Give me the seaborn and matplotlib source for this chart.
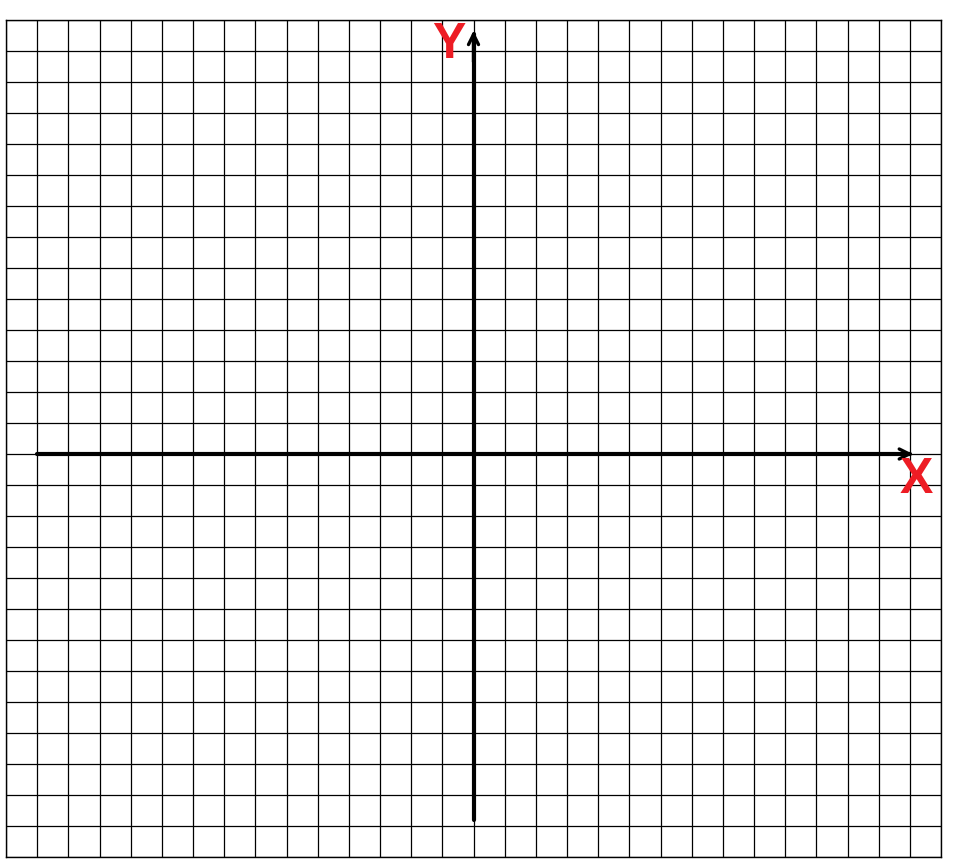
import numpy as np
import seaborn as sns
import matplotlib.pyplot as plt

# grid extent (units of one cell)
x_ticks = list(range(-15, 16))
y_ticks = list(range(-13, 15))

# axis segments: (start, end) along each axis
x_axis = [-14.0, 14.1]
y_axis = [-11.8, 13.65]

axis_labels = ["X", "Y"]
label_pos = [(14.2, -0.85), (-0.8, 13.2)]

sns.set_style("white")
plt.rcParams['font.family'] = ['Liberation Sans', 'DejaVu Sans']

fig = plt.figure(figsize=(9.56, 8.65), dpi=100)
ax = fig.add_axes([6 / 956, 8 / 865, 935 / 956, 837 / 865])

ax.set_xlim(x_ticks[0], x_ticks[-1])
ax.set_ylim(y_ticks[0], y_ticks[-1])
ax.set_xticks(x_ticks)
ax.set_yticks(y_ticks)
ax.tick_params(length=0, labelbottom=False, labelleft=False)
ax.grid(True, color="black", linewidth=0.9)
for s in ax.spines.values():
    s.set_visible(True)
    s.set_color("black")
    s.set_linewidth(1.0)

# axis lines
sns.lineplot(x=x_axis[:1] + [x_axis[1] - 0.1], y=[0, 0], ax=ax, color="black",
             linewidth=3.0, sort=False)
sns.lineplot(x=[0, 0], y=[y_axis[0], y_axis[1] - 0.1], ax=ax, color="black",
             linewidth=3.0, sort=False, orient="y")

arrow = dict(arrowstyle="->", color="black", lw=2.4, mutation_scale=18,
             shrinkA=0, shrinkB=0)
ax.annotate("", xy=(x_axis[1], 0), xytext=(x_axis[1] - 1, 0), arrowprops=arrow)
ax.annotate("", xy=(0, y_axis[1]), xytext=(0, y_axis[1] - 1), arrowprops=arrow)

for lab, (lx, ly) in zip(axis_labels, label_pos):
    ax.text(lx, ly, lab, color="#ED1C24", fontsize=36, fontweight="bold",
            ha="center", va="center")

fig.savefig("out.png", dpi=100, facecolor="white")
